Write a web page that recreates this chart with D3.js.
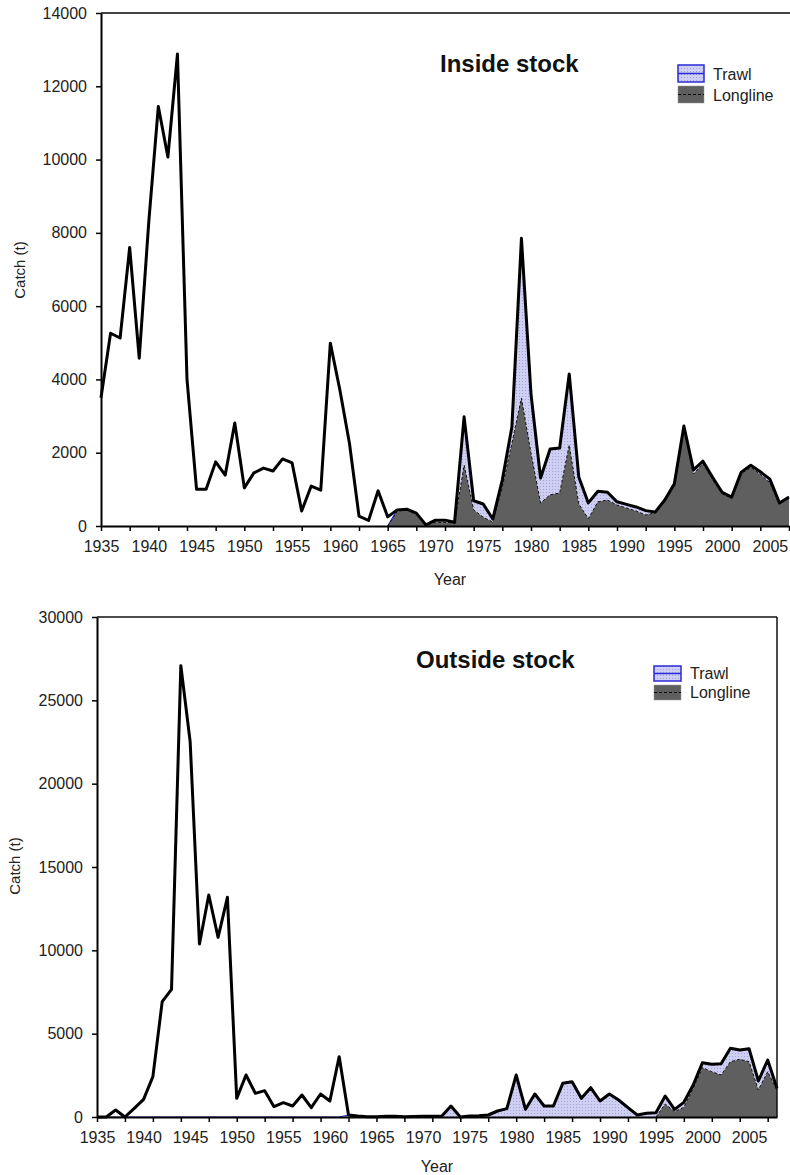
<html>
<head>
<meta charset="utf-8">
<style>
body { margin:0; background:#fff; }
svg text { font-family: "Liberation Sans", Arial, sans-serif; }
</style>
</head>
<body>
<svg id="chart"></svg>
<script src="https://d3js.org/d3.v7.min.js"></script>
<script>

// ---- Inside stock (1935-2007) ----
var insideTotal = [
    3500, 5260, 5130, 7600, 4580, 8300, 11450, 10070, 12880, 4000,
    1000, 1000, 1750, 1390, 2810, 1040, 1450, 1580, 1500, 1830,
    1720, 410, 1090, 980, 4990, 3710, 2260, 270, 150, 960,
    250, 440, 460, 350, 30, 160, 160, 100, 2980, 690,
    600, 190, 1260, 2700, 7850, 3600, 1310, 2100, 2130, 4150,
    1340, 630, 950, 920, 660, 590, 520, 420, 380, 710,
    1150, 2730, 1530, 1770, 1330, 920, 790, 1470, 1660, 1480,
    1280, 630, 790
];
// from 1965
var insideLongline = [
    0, 400, 440, 350, 30, 100, 100, 80, 1660, 440,
    240, 110, 1070, 2260, 3490, 1990, 630, 850, 900, 2210,
    600, 200, 660, 710, 570, 490, 410, 300, 360, 700,
    1130, 2700, 1420, 1700, 1270, 880, 760, 1430, 1600, 1410,
    1180, 600, 760
];
var insideTrawl = [
    0, 40, 20, 0, 0, 60, 60, 20, 1320, 250,
    360, 80, 190, 440, 4360, 1610, 680, 1250, 1230, 1940,
    740, 430, 290, 210, 90, 100, 110, 120, 20, 10,
    20, 30, 110, 70, 60, 40, 30, 40, 60, 70,
    100, 30, 30
];

// ---- Outside stock (1935-2008) ----
var outsideTotal = [
    0, 0, 420, 0, 520, 1060, 2420, 6920, 7660, 27080,
    22520, 10380, 13320, 10780, 13180, 1120, 2520, 1420, 1580, 620,
    860, 660, 1320, 560, 1380, 960, 3620, 120, 60, 20,
    20, 40, 40, 20, 30, 40, 40, 40, 660, 0,
    60, 70, 120, 360, 500, 2520, 460, 1380, 660, 660,
    2020, 2120, 1120, 1760, 960, 1380, 1020, 560, 120, 220,
    260, 1260, 460, 880, 1920, 3260, 3160, 3200, 4120, 4020,
    4100, 2160, 3420, 1720
];
// from 1935
var outsideTrawl = [
    0, 0, 0, 0, 0, 0, 0, 0, 0, 0,
    0, 0, 0, 0, 0, 0, 0, 0, 0, 0,
    0, 0, 0, 0, 0, 0, 0, 120, 60, 20,
    20, 40, 40, 20, 30, 40, 40, 40, 660, 0,
    60, 70, 120, 360, 500, 2520, 460, 1380, 660, 660,
    2020, 2120, 1120, 1760, 960, 1380, 1020, 560, 120, 220,
    260, 480, 140, 300, 200, 300, 440, 680, 800, 560,
    780, 540, 700, 100
];
// from 1995
var outsideLongline = [
    0, 780, 320, 580, 1720, 2960, 2720, 2520, 3320, 3460,
    3320, 1620, 2720, 1620
];

var legendLabels = ["Trawl", "Longline"];

var trawlColor = "#cfcff3";
var trawlEdge = "#2b2bd6";
var longlineColor = "#5f5f5f";

var svg = d3.select("#chart")
    .attr("width", 790)
    .attr("height", 1175);

//dotted fill for the trawl area
var pat = svg.append("defs")
    .append("pattern")
    .attr("id", "dots")
    .attr("width", 3)
    .attr("height", 3)
    .attr("patternUnits", "userSpaceOnUse");
pat.append("rect")
    .attr("width", 3).attr("height", 3)
    .attr("fill", trawlColor);
pat.append("rect")
    .attr("width", 1).attr("height", 1)
    .attr("fill", "#a3a3dc");

var drawPanel = function(p)
{
    var xScale = d3.scaleLinear()
        .domain([p.firstYear, p.lastYear])
        .range([p.left, p.right]);

    var yScale = d3.scaleLinear()
        .domain([0, p.yMax])
        .range([p.bottom, p.top]);

    var g = svg.append("g");

    //stacked areas: longline under trawl
    var rows = d3.range(p.areaStart, p.lastYear + 1).map(function(yr)
    {
        var li = yr - p.longlineStart;
        var ti = yr - p.trawlStart;
        return {
            year: yr,
            longline: li >= 0 ? p.longline[li] : 0,
            trawl: ti >= 0 ? p.trawl[ti] : 0
        };
    });
    var layers = d3.stack().keys(["longline", "trawl"])(rows);

    var area = d3.area()
        .x(function(d){ return xScale(d.data.year); })
        .y0(function(d){ return yScale(d[0]); })
        .y1(function(d){ return yScale(d[1]); });

    var topLine = d3.line()
        .x(function(d){ return xScale(d.data.year); })
        .y(function(d){ return yScale(d[1]); });

    var llDefined = function(d){ return d.data.year >= p.longlineStart; };
    var trDefined = function(d){ return d.data.year >= p.trawlStart; };

    g.append("path")
        .attr("d", area.defined(trDefined)(layers[1]))
        .attr("fill", "url(#dots)");

    g.append("path")
        .attr("d", area.defined(llDefined)(layers[0]))
        .attr("fill", longlineColor);

    g.append("path")
        .attr("d", topLine.defined(trDefined)(layers[1]))
        .attr("fill", "none")
        .attr("stroke", trawlEdge)
        .attr("stroke-width", 1.2);

    g.append("path")
        .attr("d", topLine.defined(llDefined)(layers[0]))
        .attr("fill", "none")
        .attr("stroke", "#111")
        .attr("stroke-width", 1)
        .attr("stroke-dasharray", "3,2");

    //total catch line
    var totalLine = d3.line()
        .x(function(d, i){ return xScale(p.firstYear + i); })
        .y(function(d){ return yScale(d); });

    g.append("path")
        .attr("d", totalLine(p.total))
        .attr("fill", "none")
        .attr("stroke", "#000")
        .attr("stroke-width", 3)
        .attr("stroke-linejoin", "round");

    //frame
    g.append("line")
        .attr("x1", p.left).attr("x2", p.frameRight)
        .attr("y1", p.top).attr("y2", p.top)
        .attr("stroke", p.frameColor)
        .attr("stroke-width", p.frameWidth);
    if (p.frameRight < 790)
    {
        g.append("line")
            .attr("x1", p.frameRight).attr("x2", p.frameRight)
            .attr("y1", p.top).attr("y2", p.bottom)
            .attr("stroke", p.frameColor)
            .attr("stroke-width", p.frameWidth);
    }

    //axes
    var yAxis = g.append("g")
        .attr("transform", "translate(" + p.left + ",0)")
        .call(d3.axisLeft(yScale)
            .tickValues(d3.range(0, p.yMax + 1, p.yStep))
            .tickSize(5)
            .tickSizeOuter(0)
            .tickPadding(9)
            .tickFormat(d3.format("d")));

    var xTicks = g.append("g")
        .attr("transform", "translate(0," + p.bottom + ")")
        .call(d3.axisBottom(xScale)
            .tickValues(d3.range(p.firstYear, p.lastYear + 1, 3))
            .tickSize(5)
            .tickSizeOuter(0)
            .tickFormat(""));

    var xLabels = g.append("g")
        .attr("transform", "translate(0," + p.bottom + ")")
        .call(d3.axisBottom(xScale)
            .tickValues(d3.range(p.firstYear, p.lastYear, 5))
            .tickSize(0)
            .tickPadding(15)
            .tickFormat(d3.format("d")));
    xLabels.select(".domain").remove();

    [yAxis, xTicks, xLabels].forEach(function(a)
    {
        a.attr("font-family", null).attr("font-size", null);
        a.selectAll(".domain").attr("stroke", "#000").attr("stroke-width", 2);
        a.selectAll(".tick line").attr("stroke", "#000").attr("stroke-width", 1.5);
        a.selectAll("text")
            .attr("fill", "#222")
            .style("font-size", "16px");
    });

    //titles
    g.append("text")
        .attr("x", p.titleX)
        .attr("y", p.titleY)
        .style("font-size", "24px")
        .style("font-weight", "bold")
        .attr("fill", "#111")
        .text(p.title);

    g.append("text")
        .attr("transform", "translate(" + p.yLabelX + "," + p.yLabelY + ") rotate(-90)")
        .attr("text-anchor", "middle")
        .style("font-size", "15px")
        .attr("fill", "#222")
        .text("Catch (t)");

    g.append("text")
        .attr("x", p.xLabelX)
        .attr("y", p.xLabelY)
        .attr("text-anchor", "middle")
        .style("font-size", "16px")
        .attr("fill", "#222")
        .text("Year");

    //legend
    var lg = g.append("g")
        .attr("transform", "translate(" + p.legendX + "," + p.legendY + ")");

    lg.append("rect")
        .attr("x", 0).attr("y", 0)
        .attr("width", p.boxW).attr("height", p.boxH)
        .attr("fill", "url(#dots)")
        .attr("stroke", trawlEdge)
        .attr("stroke-width", 1.5);
    lg.append("line")
        .attr("x1", 0).attr("x2", p.boxW)
        .attr("y1", p.boxH / 2).attr("y2", p.boxH / 2)
        .attr("stroke", trawlEdge)
        .attr("stroke-width", 1.5);

    lg.append("rect")
        .attr("x", 0).attr("y", p.rowGap)
        .attr("width", p.boxW).attr("height", p.boxH)
        .attr("fill", longlineColor)
        .attr("stroke", "#999")
        .attr("stroke-width", 0.5);
    lg.append("line")
        .attr("x1", 0).attr("x2", p.boxW)
        .attr("y1", p.rowGap + p.boxH / 2).attr("y2", p.rowGap + p.boxH / 2)
        .attr("stroke", "#000")
        .attr("stroke-width", 1)
        .attr("stroke-dasharray", "3,2");

    lg.selectAll("text.leg")
        .data(legendLabels)
        .enter()
        .append("text")
        .classed("leg", true)
        .attr("x", p.boxW + 9)
        .attr("y", function(d, i){ return i * p.rowGap + p.boxH - 2; })
        .style("font-size", "16px")
        .attr("fill", "#222")
        .text(function(d){ return d; });
}

drawPanel({
    title: "Inside stock",
    firstYear: 1935, lastYear: 2007,
    areaStart: 1965, trawlStart: 1965, longlineStart: 1965,
    total: insideTotal, trawl: insideTrawl, longline: insideLongline,
    yMax: 14000, yStep: 2000,
    left: 101, right: 789, top: 13, bottom: 526,
    frameRight: 792, frameColor: "#444", frameWidth: 2,
    titleX: 440, titleY: 72,
    yLabelX: 25, yLabelY: 270,
    xLabelX: 450, xLabelY: 585,
    legendX: 678, legendY: 65, boxW: 26, boxH: 17, rowGap: 21
});

drawPanel({
    title: "Outside stock",
    firstYear: 1935, lastYear: 2008,
    areaStart: 1935, trawlStart: 1935, longlineStart: 1995,
    total: outsideTotal, trawl: outsideTrawl, longline: outsideLongline,
    yMax: 30000, yStep: 5000,
    left: 97, right: 777, top: 617, bottom: 1117,
    frameRight: 777, frameColor: "#111", frameWidth: 1.5,
    titleX: 416, titleY: 668,
    yLabelX: 20, yLabelY: 866,
    xLabelX: 437, xLabelY: 1172,
    legendX: 654, legendY: 666, boxW: 27, boxH: 15, rowGap: 19
});

</script>
</body>
</html>
